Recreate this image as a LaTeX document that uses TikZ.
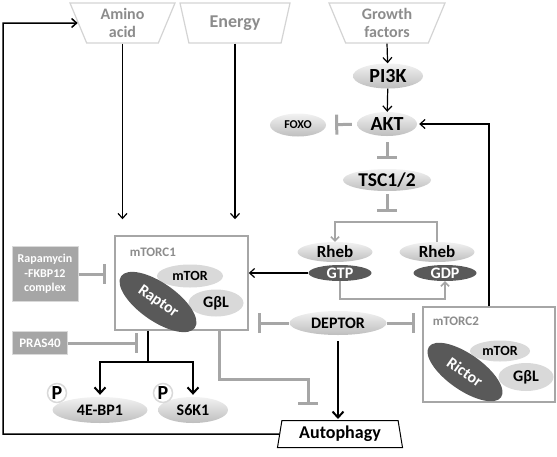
\documentclass[tikz,border=0pt]{standalone}
\usepackage{fontspec}
\setmainfont{Carlito}
\usepackage{tikz}
\usetikzlibrary{arrows.meta,positioning,shapes.geometric}
\definecolor{mtgray}{RGB}{166,166,166}
\definecolor{mtdark}{RGB}{89,89,89}
\definecolor{mtlight}{RGB}{217,217,217}
\definecolor{mttext}{RGB}{140,140,140}
\definecolor{mtedge}{RGB}{212,212,212}
\definecolor{mttop}{RGB}{242,242,242}
\definecolor{mtbot}{RGB}{190,190,190}
\newcommand{\fsz}[1]{\fontsize{#1}{#1}\selectfont\bfseries}
\tikzset{
  inputnode/.style={trapezium,shape border rotate=180,trapezium stretches body=true,trapezium angle=62,draw=mtedge,line width=1.2pt,fill=white,text=mttext,minimum height=40pt,align=center,inner sep=1pt,font=\fontsize{16}{18}\selectfont\bfseries},
  signode/.style={ellipse,inner sep=0pt,top color=mttop,bottom color=mtbot,draw=none},
  darknode/.style={ellipse,inner sep=0pt,fill=mtdark,text=white},
  subnode/.style={ellipse,inner sep=0pt,fill=mtlight},
  complexnode/.style={rectangle,draw=mtgray,line width=1.5pt,fill=white,inner sep=0pt},
  drugnode/.style={rectangle,fill=mtgray,draw=mtlight,line width=1pt,text=white,align=center,inner sep=0pt},
  phosnode/.style={circle,draw=mtlight,line width=1.5pt,fill=white,inner sep=0pt,minimum size=19pt,font=\fsz{20}},
  actarrow/.style={-{Straight Barb[length=5pt,width=9pt]},line width=1.2pt},
  outarrow/.style={-{Straight Barb[length=6pt,width=11pt]},line width=2pt},
  inharrow/.style={-{Bar[width=20pt]},draw=mtgray,line width=3pt},
  cyclearrow/.style={-{Straight Barb[length=4pt,width=8pt]},draw=mtgray,line width=1.5pt}
}

\begin{document}
\begin{tikzpicture}[x=1pt,y=-1pt]
  \useasboundingbox (0,0) rectangle (557,456);
  \node[inputnode,minimum width=105pt] (amino) at (122.5,23) {Amino\\acid};
  \node[inputnode,minimum width=110pt,font=\fsz{18}] (energy) at (235,23) {Energy};
  \node[inputnode,minimum width=116pt] (growth) at (387,23) {Growth\\factors};
  \node[signode,minimum width=70pt,minimum height=25pt,font=\fsz{20}] (pik) at (388,76) {PI3K};
  \node[signode,minimum width=60pt,minimum height=24pt,font=\fsz{20}] (akt) at (387,124) {AKT};
  \node[signode,minimum width=56pt,minimum height=23pt,font=\fsz{12}] (foxo) at (298,125) {FOXO};
  \node[signode,minimum width=88pt,minimum height=22pt,font=\fsz{19.5}] (tsc) at (387,180) {TSC1/2};
  \node[signode,minimum width=75pt,minimum height=20pt,font=\fsz{17}] (rhebl) at (335,252) {Rheb};
  \node[darknode,minimum width=63pt,minimum height=16pt,font=\fsz{16}] (gtp) at (340,273) {GTP};
  \node[signode,minimum width=75pt,minimum height=20pt,font=\fsz{17}] (rhebr) at (437,252) {Rheb};
  \node[darknode,minimum width=63pt,minimum height=16pt,font=\fsz{16}] (gdp) at (445,273) {GDP};
  \coordinate (cyctop) at (387,222);
  \coordinate (cycbot) at (395,299);
  \node[complexnode,minimum width=133pt,minimum height=94pt] (mtorc1) at (181.5,283) {};
  \node[anchor=north west,text=mttext,font=\fsz{13}] at ([xshift=12pt,yshift=-9pt]mtorc1.north west) {mTORC1};
  \node[subnode,minimum width=66pt,minimum height=23pt,font=\fsz{14}] (mtor1) at (190,276) {mTOR};
  \node[subnode,minimum width=55pt,minimum height=27pt,font=\fsz{16}] (gbl1) at (216,303) {GβL};
  \node[darknode,minimum width=90pt,minimum height=38pt,rotate=-35,font=\fsz{16}] (raptor) at (158,302) {Raptor};
  \node[drugnode,minimum width=66pt,minimum height=55pt,font=\fontsize{12}{14.5}\selectfont\bfseries] (rapa) at (45,274) {Rapamycin\\-FKBP12\\complex};
  \node[drugnode,minimum width=55pt,minimum height=23pt,font=\fsz{13}] (pras) at (40,343) {PRAS40};
  \coordinate (branch) at (148,362);
  \node[signode,minimum width=95pt,minimum height=26pt,font=\fsz{16}] (ebp) at (100,410) {4E-BP1};
  \node[signode,minimum width=70pt,minimum height=26pt,font=\fsz{16}] (s6k) at (193,410) {S6K1};
  \node[phosnode] (p1) at (57,393) {P};
  \node[phosnode] (p2) at (163,393) {P};
  \node[signode,minimum width=97pt,minimum height=24pt,font=\fsz{16}] (deptor) at (338,323) {DEPTOR};
  \node[trapezium,trapezium stretches body=true,trapezium angle=76,draw,line width=1pt,fill=white,minimum width=125pt,minimum height=27pt,inner sep=1pt,font=\fsz{18}] (auto) at (340,434) {Autophagy};
  \coordinate (kink) at (308,379);
  \node[complexnode,minimum width=132pt,minimum height=95pt] (mtorc2) at (489,354.5) {};
  \node[anchor=north west,text=mttext,font=\fsz{13}] at ([xshift=7pt,yshift=-7pt]mtorc2.north west) {mTORC2};
  \node[subnode,minimum width=60pt,minimum height=21pt,font=\fsz{14}] (mtor2) at (500,351) {mTOR};
  \node[subnode,minimum width=55pt,minimum height=28pt,font=\fsz{16}] (gbl2) at (526,377) {GβL};
  \node[darknode,minimum width=88pt,minimum height=36pt,rotate=-35,font=\fsz{16}] (rictor) at (465,372) {Rictor};
  \coordinate (fbleft) at (3,23);
  \draw[actarrow] (growth.south) -- (pik);
  \draw[actarrow] (pik) -- (akt);
  \draw[inharrow,shorten <=5pt,shorten >=9pt] (akt) -- (foxo);
  \draw[inharrow,shorten <=6pt,shorten >=10pt] (akt) -- (tsc);
  \draw[inharrow,shorten <=3pt,shorten >=10pt] (tsc) -- (cyctop);
  \draw[cyclearrow] (rhebr.north) |- (cyctop) -| (rhebl.north);
  \draw[cyclearrow] (gtp.south) |- (cycbot) -| (gdp.south);
  \draw[actarrow] (gtp.west) -- (gtp.west -| mtorc1.east);
  \draw[actarrow,shorten >=16pt] (amino.south) -- (amino.south |- mtorc1.north);
  \draw[actarrow,shorten >=16pt] (energy.south) -- (energy.south |- mtorc1.north);
  \draw[inharrow,shorten >=8pt] (rapa.east) -- (rapa.east -| mtorc1.west);
  \draw[inharrow,shorten >=10pt] (pras.east) -- (pras.east -| branch);
  \draw[line width=2pt] (mtorc1.south -| branch) -- (branch);
  \draw[outarrow,shorten >=2pt] (branch) -| (ebp.north);
  \draw[outarrow,shorten >=2pt] (branch) -| (s6k.north);
  \draw[inharrow,shorten >=15pt] ([xshift=38pt]mtorc1.south) |- (kink) -- (kink |- auto.north);
  \draw[inharrow,shorten >=9pt] (deptor.west) -- (deptor.west -| mtorc1.east);
  \draw[inharrow,shorten >=7pt] (deptor.east) -- (deptor.east -| mtorc2.west);
  \draw[outarrow,shorten <=6pt,shorten >=1pt] (deptor.south) -- (deptor.south |- auto.north);
  \draw[actarrow,shorten >=2pt] (mtorc2.north) |- (akt.east);
  \draw[actarrow,line width=1.5pt] (auto.west) -| (fbleft) -- (amino.west);
\end{tikzpicture}
\end{document}
